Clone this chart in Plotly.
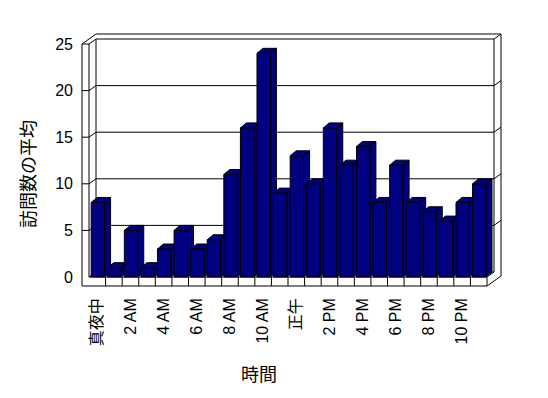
import plotly.graph_objects as go

# ---------------- data ----------------
hours = ["真夜中", "1 AM", "2 AM", "3 AM", "4 AM", "5 AM", "6 AM", "7 AM",
         "8 AM", "9 AM", "10 AM", "11 AM", "正午", "1 PM", "2 PM", "3 PM",
         "4 PM", "5 PM", "6 PM", "7 PM", "8 PM", "9 PM", "10 PM", "11 PM"]
visits = [8, 1, 5, 1, 3, 5, 3, 4, 11, 16, 24, 9,
          13, 10, 16, 12, 14, 8, 12, 8, 7, 6, 8, 10]
y_ticks = [0, 5, 10, 15, 20, 25]
y_title = "訪問数の平均"
x_title = "時間"

# ---------------- layout calibration (pixels) ----------------
W, H = 548, 398
PL, PR, PT, PB = 74, 510, 25, 292      # plot area edges
FX0, FX1 = 89, 487                     # front plane: left / right pixel
FY0, FYT = 277, 44                     # front plane: value 0 / top value pixel
n = len(hours)
vmax = y_ticks[-1]
sx = (FX1 - FX0) / n
sy = (FY0 - FYT) / vmax
x_range = [(PL - FX0) / sx, (PR - FX0) / sx]
y_range = [(FY0 - PB) / sy, (FY0 - PT) / sy]

DX, DY = 7 / sx, 5 / sy        # wall depth step
BDX, BDY = 6 / sx, 5 / sy      # bar depth
T = 7 / sx                     # left wall thickness
FT = 9 / sy                    # floor thickness
B_OFF, B_W = 0.13, 0.81        # bar placement inside a category

NAVY = "#000080"
FONT = "Liberation Sans, Arial, Noto Sans CJK JP, sans-serif"

fig = go.Figure()

# ---------------- frame (walls, floor, gridlines) ----------------
segs = []
def seg(a, b):
    segs.append((a, b))

# left wall
seg((-T, vmax), (-T, -FT))
seg((0, vmax), (0, 0))
seg((-T, vmax), (0, vmax))
seg((-T, vmax), (-T + 2 * DX, vmax + 2 * DY))
seg((0, vmax), (DX, vmax + DY))
# back wall top
seg((DX, vmax + DY), (n + DX, vmax + DY))
seg((-T + 2 * DX, vmax + 2 * DY), (n + 2 * DX, vmax + 2 * DY))
seg((n + DX, vmax + DY), (n + 2 * DX, vmax + 2 * DY))
# right end of back wall
seg((n + 2 * DX, vmax + 2 * DY), (n + 2 * DX, 2 * DY - FT))
seg((n + DX, vmax + DY), (n + DX, DY))
seg((DX, vmax + DY), (DX, DY))
# floor
seg((0, 0), (n, 0))
seg((-T, -FT), (n, -FT))
seg((n, 0), (n, -FT))
for k in range(1, n):
    seg((k, 0), (k, -FT))
seg((DX, DY), (n + DX, DY))
seg((0, 0), (DX, DY))
seg((n, 0), (n + DX, DY))
seg((n, -FT), (n + 2 * DX, -FT + 2 * DY))
# gridlines
for v in y_ticks[1:-1]:
    seg((DX, v + DY), (n + DX, v + DY))
    seg((DX, v + DY), (0, v))
    seg((0, v), (-T, v))
    seg((n + DX, v + DY), (n + 2 * DX, v + 2 * DY))

fx, fy = [], []
for a, b in segs:
    fx += [a[0], b[0], None]
    fy += [a[1], b[1], None]
fig.add_trace(go.Scatter(x=fx, y=fy, mode="lines",
                         line=dict(color="black", width=1),
                         hoverinfo="skip", showlegend=False))

# ---------------- 3D bars ----------------
for i, v in enumerate(visits):
    x0 = i + B_OFF
    x1 = x0 + B_W
    px = [x0, x1, x1, x0, x0, None,
          x0, x1, x1 + BDX, x0 + BDX, x0, None,
          x1, x1 + BDX, x1 + BDX, x1, x1]
    py = [0, 0, v, v, 0, None,
          v, v, v + BDY, v + BDY, v, None,
          0, BDY, v + BDY, v, 0]
    fig.add_trace(go.Scatter(x=px, y=py, mode="lines", fill="toself",
                             fillcolor=NAVY,
                             line=dict(color="black", width=1),
                             name=hours[i], showlegend=False,
                             hoverinfo="skip"))

# ---------------- axes ----------------
tickvals = [i + 0.5 for i in range(0, n, 2)]
ticktext = [hours[i] for i in range(0, n, 2)]

fig.update_xaxes(range=x_range, tickvals=tickvals, ticktext=ticktext,
                 tickangle=-90, showgrid=False, zeroline=False,
                 showline=False, ticks="", ticklabelstandoff=2,
                 tickfont=dict(family=FONT, size=16, color="black"))
fig.update_yaxes(range=y_range, tickvals=y_ticks, showgrid=False,
                 zeroline=False, showline=False, ticks="",
                 tickfont=dict(family=FONT, size=16, color="black"))

pw, ph = PR - PL, PB - PT
fig.add_annotation(text=y_title, textangle=-90, showarrow=False,
                   xref="paper", yref="paper",
                   x=(29 - PL) / pw, y=(PB - 174) / ph,
                   xanchor="center", yanchor="middle",
                   font=dict(family=FONT, size=18, color="black"))
fig.add_annotation(text=x_title, showarrow=False,
                   xref="paper", yref="paper",
                   x=(259 - PL) / pw, y=(PB - 375) / ph,
                   xanchor="center", yanchor="middle",
                   font=dict(family=FONT, size=18, color="black"))

fig.update_layout(width=W, height=H,
                  margin=dict(l=PL, r=W - PR, t=PT, b=H - PB, pad=0),
                  paper_bgcolor="white", plot_bgcolor="white",
                  showlegend=False)

fig.write_html("out.html")
